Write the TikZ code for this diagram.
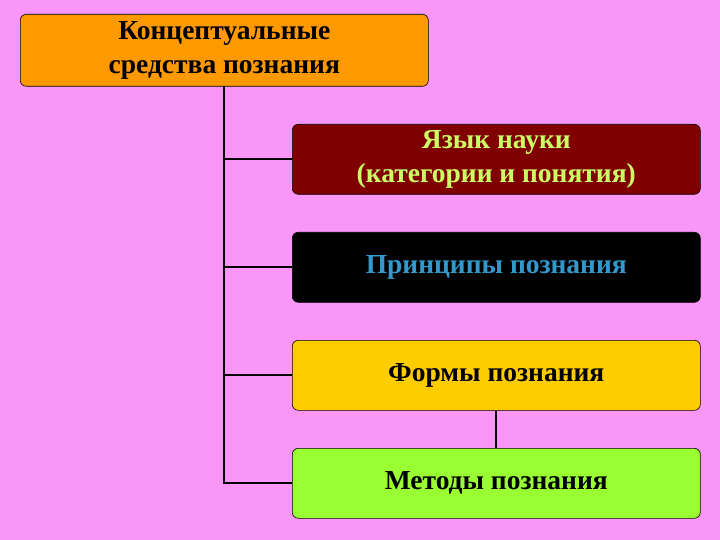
\documentclass[tikz,border=0pt]{standalone}
\usepackage{fontspec}
\setmainfont{Liberation Serif}
\begin{document}
\begin{tikzpicture}[x=1pt,y=-1pt,
 box/.style={draw=black,line width=0.6pt,rounded corners=6pt,minimum width=408pt,minimum height=70pt,anchor=north west,align=center,font=\fontsize{27.5}{34}\selectfont\bfseries,inner sep=0pt},
 ln/.style={line width=2pt,black}]
\fill[fill={rgb,255:red,250;green,150;blue,248}] (0,0) rectangle (720,540);
\node[box,fill={rgb,255:red,255;green,153;blue,0},minimum height=72pt] (top) at (20,14) {Концептуальные\\средства познания};
\node[box,fill={rgb,255:red,128;green,0;blue,0},text={rgb,255:red,204;green,255;blue,102}] (b1) at (292,124) {Язык науки\\(категории и понятия)};
\node[box,fill=black,text={rgb,255:red,51;green,153;blue,204}] (b2) at (292,232) {Принципы познания};
\node[box,fill={rgb,255:red,255;green,204;blue,0}] (b3) at (292,340) {Формы познания};
\node[box,fill={rgb,255:red,153;green,255;blue,51}] (b4) at (292,448) {Методы познания};
\coordinate (v0) at (224,86);
\draw[ln] (v0) |- (b4.west);
\draw[ln] (b1.west) -- (b1.west -| v0);
\draw[ln] (b2.west) -- (b2.west -| v0);
\draw[ln] (b3.west) -- (b3.west -| v0);
\draw[ln] (b3.south) -- (b4.north);
\end{tikzpicture}
\end{document}
